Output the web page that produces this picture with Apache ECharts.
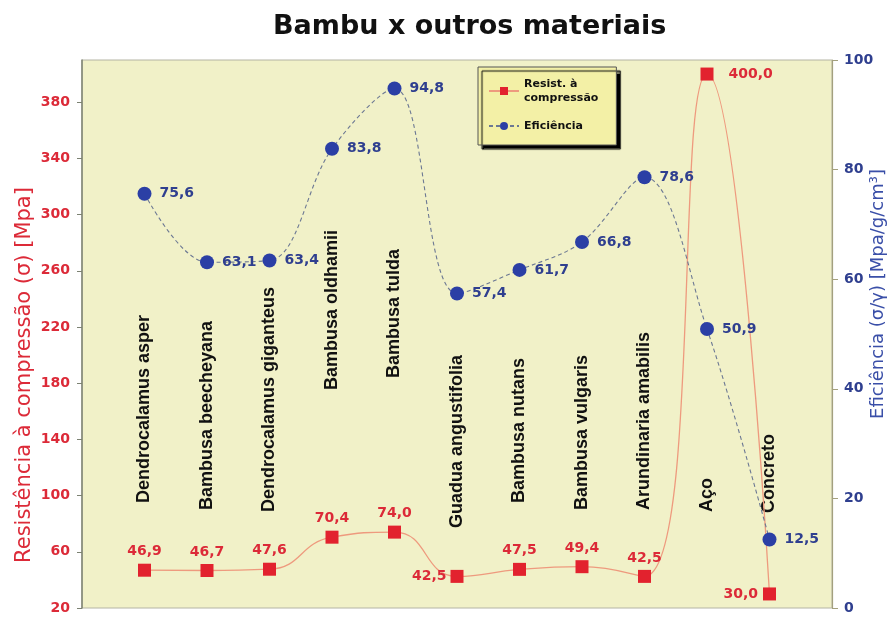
<!DOCTYPE html>
<html>
<head>
<meta charset="utf-8">
<script src="https://cdn.jsdelivr.net/npm/echarts@6/dist/echarts.min.js"></script>
<style>
html,body{margin:0;padding:0;background:#fff;overflow:hidden;}
#c{width:895px;height:617px;}
</style>
</head>
<body>
<div id="c"></div>
<script>
const categories = ['Dendrocalamus asper','Bambusa beecheyana','Dendrocalamus giganteus','Bambusa oldhamii','Bambusa tulda','Guadua angustifolia','Bambusa nutans','Bambusa vulgaris','Arundinaria amabilis','Aço','Concreto'];
const resistencia = [46.9, 46.7, 47.6, 70.4, 74.0, 42.5, 47.5, 49.4, 42.5, 400.0, 30.0];
const eficiencia = [75.6, 63.1, 63.4, 83.8, 94.8, 57.4, 61.7, 66.8, 78.6, 50.9, 12.5];
const seriesNames = ['Resist. à\ncompressão', 'Eficiência'];

const FONT = 'DejaVu Sans, Liberation Sans, Arial, sans-serif';
const AFONT = 'Liberation Sans, Arial, Helvetica, sans-serif';
const RED = '#E2222E';
const RED_TXT = '#DC2A38';
const BLUE = '#2B3FA5';
const BLUE_TXT = '#2F3F8F';

// styling: red data label placement by index
const redLabelPos = {5: ['left', 4], 9: ['right', 15], 10: ['left', 5]};
// styling: extra lift (px) of each rotated category label above the base line
const catLabelLift = [25, 18, 16, 138, 150, 0, 25, 18, 18, 16, 15];

const fmt = v => v.toFixed(1).replace('.', ',');

const xCats = [''].concat(categories, ['']);
const redData = [null].concat(resistencia.map((v, i) => {
  const p = redLabelPos[i];
  return p ? {value: v, label: {position: p[0], distance: p[1]}} : v;
}), [null]);
const blueData = [null].concat(eficiencia, [null]);

const catTextStyle = {fontSize: 18, fontWeight: 'bold', color: '#111', fontFamily: AFONT};
const rich = {};
catLabelLift.forEach((lift, i) => {
  rich['c' + (i + 1)] = Object.assign({padding: [0, 0, 0, lift]}, catTextStyle);
});

const chart = echarts.init(document.getElementById('c'), null, {renderer: 'canvas', width: 895, height: 617});
chart.setOption({
  backgroundColor: '#ffffff',
  animation: false,
  textStyle: {fontFamily: FONT},
  title: {
    text: 'Bambu x outros materiais',
    left: 268, top: 8,
    textStyle: {fontSize: 27, fontWeight: 'bold', color: '#111', fontFamily: FONT}
  },
  legend: {
    orient: 'vertical',
    left: 478, top: 67,
    padding: [10, 18, 12, 10],
    itemGap: 14,
    itemWidth: 30, itemHeight: 10,
    backgroundColor: '#F3F0A6',
    borderColor: '#555',
    borderWidth: 1,
    shadowColor: '#000',
    shadowBlur: 1,
    shadowOffsetX: 4,
    shadowOffsetY: 4,
    textStyle: {fontSize: 11, fontWeight: 'bold', color: '#111', fontFamily: FONT, lineHeight: 14},
    data: seriesNames
  },
  grid: {
    left: 82, right: 63, top: 60, bottom: 9,
    containLabel: false,
    outerBoundsMode: 'none',
    show: true,
    backgroundColor: '#F1F1C8',
    borderColor: '#B4B4A4',
    borderWidth: 1
  },
  xAxis: {
    type: 'category',
    data: xCats,
    boundaryGap: false,
    axisLine: {show: false},
    axisTick: {show: false},
    splitLine: {show: false},
    axisLabel: Object.assign({
      inside: true, rotate: 90, margin: 80, interval: 0,
      formatter: (val, idx) => val ? '{c' + idx + '|' + val + '}' : '',
      rich: rich
    }, catTextStyle)
  },
  yAxis: [{
    type: 'value',
    min: 20, max: 410, interval: 40,
    position: 'left',
    name: 'Resistência à compressão (σ) [Mpa]',
    nameLocation: 'middle',
    nameGap: 47,
    nameMoveOverlap: false,
    nameTextStyle: {fontSize: 21, color: RED_TXT, fontFamily: FONT, padding: [0, 82, 0, 0]},
    axisLine: {show: true, lineStyle: {color: '#7C8272', width: 1.5}},
    axisTick: {show: true, length: 5, lineStyle: {color: '#7C8272'}},
    splitLine: {show: false},
    axisLabel: {showMaxLabel: false, margin: 12, fontSize: 14, fontWeight: 'bold', color: RED_TXT, fontFamily: FONT}
  }, {
    type: 'value',
    min: 0, max: 100, interval: 20,
    position: 'right',
    name: 'Eficiência (σ/γ) [Mpa/g/cm³]',
    nameLocation: 'middle',
    nameGap: 37,
    nameMoveOverlap: false,
    nameTextStyle: {fontSize: 18, color: '#3A4FA8', fontFamily: FONT, padding: [0, 0, 0, 80]},
    axisLine: {show: true, lineStyle: {color: '#A3A07E', width: 1.2}},
    axisTick: {show: true, length: 6, lineStyle: {color: '#A3A07E'}},
    splitLine: {show: false},
    axisLabel: {margin: 12, fontSize: 14, fontWeight: 'bold', color: BLUE_TXT, fontFamily: FONT}
  }],
  series: [{
    name: seriesNames[0],
    type: 'line',
    yAxisIndex: 0,
    data: redData,
    smooth: 0.5,
    symbol: 'rect',
    symbolSize: 13,
    itemStyle: {color: RED},
    lineStyle: {color: '#EE9A7E', width: 1.3},
    label: {
      show: true, position: 'top', distance: 5,
      formatter: p => fmt(p.value),
      fontSize: 14, fontWeight: 'bold', color: RED_TXT, fontFamily: FONT
    },
    z: 3
  }, {
    name: seriesNames[1],
    type: 'line',
    yAxisIndex: 1,
    data: blueData,
    smooth: 0.35,
    symbol: 'circle',
    symbolSize: 14,
    itemStyle: {color: BLUE},
    lineStyle: {color: '#6C7893', width: 1.1, type: [4, 3]},
    label: {
      show: true, position: 'right', distance: 8,
      formatter: p => fmt(p.value),
      fontSize: 14, fontWeight: 'bold', color: BLUE_TXT, fontFamily: FONT
    },
    z: 4
  }]
});
</script>
</body>
</html>
